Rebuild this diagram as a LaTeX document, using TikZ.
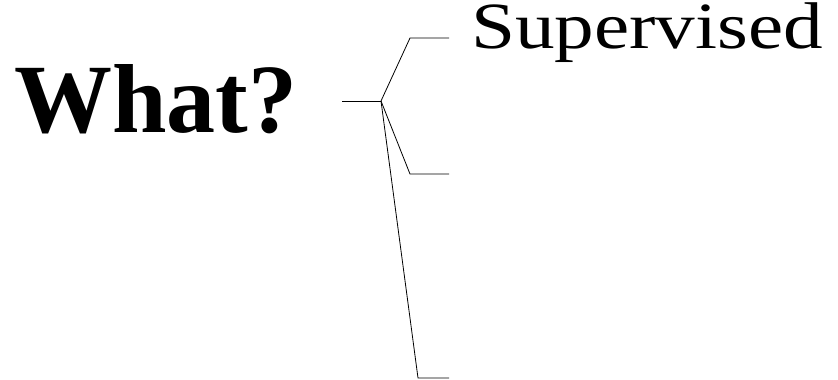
\documentclass[tikz,border=0pt]{standalone}
\usepackage{fontspec}
\setmainfont{Liberation Serif}
\newfontfamily\widefont[FakeStretch=1.2]{Liberation Serif}
\usepackage{tikz}

\begin{document}
\begin{tikzpicture}[x=1pt,y=-1pt]
\tikzset{lbl/.style={anchor=base west,inner sep=0pt},br/.style={line width=0.8pt}}
\useasboundingbox (0,0) rectangle (838,380);

\node[lbl,font=\fontsize{98}{98}\selectfont\bfseries] (what) at (14,132) {What?};
\node[lbl,font=\fontsize{66}{66}\widefont] (sup) at (471,48) {Supervised};

\coordinate (s) at (342,101);
\coordinate (f) at (381,101);
\coordinate (a1) at (410,38);
\coordinate (a2) at (449,38);
\coordinate (b1) at (410,174);
\coordinate (b2) at (449,174);
\coordinate (c1) at (418,378);
\coordinate (c2) at (449,378);
\draw[br] (s)--(f);
\draw[br] (f)--(a1)--(a2);
\draw[br] (f)--(b1)--(b2);
\draw[br] (f)--(c1)--(c2);
\end{tikzpicture}
\end{document}
